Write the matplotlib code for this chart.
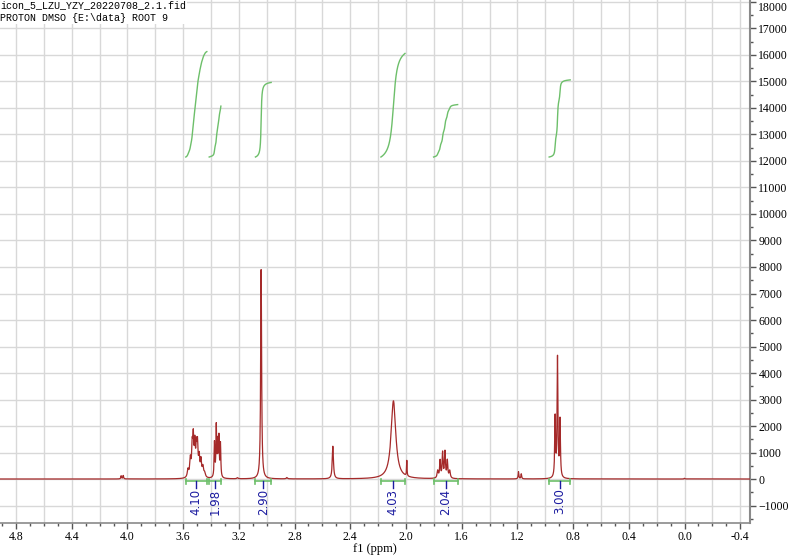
#!/usr/bin/env python3
import numpy as np
import matplotlib
matplotlib.use("Agg")
import matplotlib.pyplot as plt
import matplotlib.ticker as mticker

# ピーク一覧 (ppm, 高さ, 半値全幅)
peak_ppm = [4.045, 4.030,
            3.565, 3.548, 3.535, 3.527, 3.516, 3.505, 3.497, 3.485, 3.472, 3.458, 3.445,
            3.375, 3.362, 3.352, 3.343, 3.332,
            3.210, 3.040, 2.855, 2.525, 2.090, 1.994,
            1.772, 1.755, 1.737, 1.720, 1.703, 1.686,
            1.192, 1.172,
            0.929, 0.912, 0.894, 0.000]
peak_height = [120, 130,
               300, 650, 1050, 1350, 1150, 1000, 1100, 700, 600, 380, 160,
               1300, 1900, 1250, 1450, 1250,
               40, 7900, 50, 1230, 2950, 580,
               280, 650, 950, 980, 650, 280,
               270, 190,
               2250, 4500, 2150, 30]
peak_width = [0.006, 0.006,
              0.012, 0.010, 0.009, 0.009, 0.009, 0.009, 0.009, 0.010, 0.010, 0.012, 0.012,
              0.006, 0.006, 0.006, 0.006, 0.006,
              0.010, 0.008, 0.010, 0.010, 0.040, 0.004,
              0.010, 0.008, 0.008, 0.008, 0.008, 0.010,
              0.006, 0.006,
              0.007, 0.007, 0.007, 0.006]

# 積分範囲と積分値
integ_lo = [3.430, 3.329, 2.968, 2.007, 1.629, 0.821]
integ_hi = [3.581, 3.413, 3.081, 2.180, 1.802, 0.972]
integ_val = [4.10, 1.98, 2.90, 4.03, 2.04, 3.00]

title_lines = "icon_5_LZU_YZY_20220708_2.1.fid\nPROTON DMSO {E:\\data} ROOT 9"

line_col = '#a52a2a'
green = '#6dbf6a'
blue = '#1c1ca0'
grid_col = '#d8d8d8'


def lorentz(x, x0, h, w):
    g = w / 2.0
    return h * g * g / ((x - x0) ** 2 + g * g)


x = np.linspace(-0.6, 5.0, 40000)
y = np.zeros_like(x)
for p, h, w in zip(peak_ppm, peak_height, peak_width):
    y += lorentz(x, p, h, w)

fig = plt.figure(figsize=(8.0, 5.58), dpi=100)
ax = fig.add_axes((0.0, 1 - 523 / 558, 750 / 800, 523 / 558))
ax.set_xlim(4.915, -0.47)
ax.set_ylim(-1660, 18075)

# グリッド
for g in np.arange(-0.4, 5.0, 0.2):
    ax.axvline(g, color=grid_col, lw=1.0, zorder=0)
for g in np.arange(-1000, 18001, 1000):
    ax.axhline(g, color=grid_col, lw=1.0, zorder=0)

ax.plot(x, y, color=line_col, lw=0.9, zorder=3)

# 積分曲線と範囲
for lo, hi, val in zip(integ_lo, integ_hi, integ_val):
    m = (x >= lo) & (x <= hi)
    xs = x[m][::-1]
    ys = y[m][::-1]
    cum = np.cumsum(ys)
    cum = cum / cum[-1]
    ax.plot(xs, 12150 + cum * val * 970, color=green, lw=1.0, zorder=3)
    ax.plot([hi, lo], [-90, -90], color=green, lw=1.2, zorder=4)
    ax.plot([hi, hi], [-190, 10], color=green, lw=1.2, zorder=4)
    ax.plot([lo, lo], [-190, 10], color=green, lw=1.2, zorder=4)
    mid = (lo + hi) / 2
    ax.plot([mid, mid], [-90, -330], color=blue, lw=1.0, zorder=4)
    ax.text(mid, -360, "%.2f" % val, rotation=90, ha='center', va='top',
            color=blue, fontsize=8.5, family='DejaVu Sans', zorder=5)

# 軸の設定
for s in ['left', 'top']:
    ax.spines[s].set_visible(False)
ax.spines['right'].set_color('#8a8a8a')
ax.spines['right'].set_linewidth(1.5)
ax.spines['bottom'].set_color('#8a8a8a')
ax.spines['bottom'].set_linewidth(1.2)
ax.yaxis.tick_right()
ax.xaxis.set_major_locator(mticker.FixedLocator(np.arange(-0.4, 4.81, 0.4)))
ax.xaxis.set_major_formatter(mticker.FormatStrFormatter('%.1f'))
ax.xaxis.set_minor_locator(mticker.MultipleLocator(0.1))
ax.yaxis.set_major_locator(mticker.MultipleLocator(1000))
ax.yaxis.set_minor_locator(mticker.MultipleLocator(500))
ax.tick_params(which='major', direction='out', length=4, width=1, color='#555555',
               labelsize=8.5, pad=2)
ax.tick_params(which='minor', direction='out', length=2, width=1, color='#555555')
fig.canvas.draw()
for lab in ax.get_xticklabels() + ax.get_yticklabels():
    lab.set_family('Liberation Serif')
for lab in ax.get_yticklabels():
    if lab.get_text().replace('\u2212', '-') == '18000':
        lab.set_va('top')
ax.set_xlabel("f1 (ppm)", family='Liberation Serif', fontsize=9, labelpad=0)

fig.text(0.0, 1.0, title_lines, ha='left', va='top', family='Liberation Mono',
         fontsize=7.2, linespacing=1.35,
         bbox=dict(facecolor='white', edgecolor='none', pad=1.0))

plt.savefig("out.png", dpi=100)
plt.close()
